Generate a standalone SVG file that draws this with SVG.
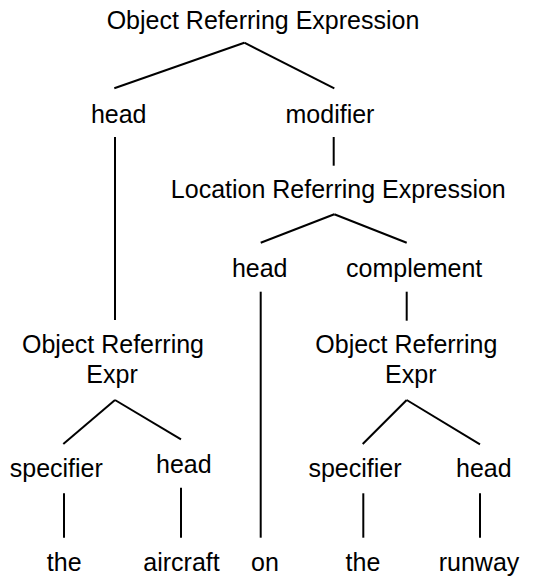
<svg xmlns="http://www.w3.org/2000/svg" width="554" height="577" viewBox="0 0 554 577">
<style>
text{font-family:"Liberation Sans",Arial,sans-serif;font-size:25px;fill:#000;text-anchor:middle}
.c line{stroke:#000;stroke-width:2;stroke-linecap:butt}
</style>
<rect width="554" height="577" fill="#fff"/>
<g class="c" id="connectors">
<line x1="244.3" y1="42.7" x2="114.3" y2="88.3"/>
<line x1="244.3" y1="42.7" x2="334.3" y2="88.3"/>
<line x1="115" y1="137" x2="115" y2="320"/>
<line x1="333.7" y1="137" x2="333.7" y2="165.7"/>
<line x1="334.3" y1="214.3" x2="260.7" y2="242.7"/>
<line x1="334.3" y1="214.3" x2="406.7" y2="242.7"/>
<line x1="260.7" y1="291.7" x2="260.7" y2="537.7"/>
<line x1="406.7" y1="291.7" x2="406.7" y2="320.7"/>
<line x1="115" y1="400" x2="63.3" y2="444"/>
<line x1="115" y1="400" x2="181" y2="439.3"/>
<line x1="406.7" y1="400" x2="362.7" y2="444"/>
<line x1="406.7" y1="400" x2="480" y2="444.3"/>
<line x1="64" y1="493.3" x2="64" y2="537.7"/>
<line x1="181" y1="487.7" x2="181" y2="537.7"/>
<line x1="363.3" y1="493.3" x2="363.3" y2="537.7"/>
<line x1="480" y1="493.3" x2="480" y2="537.7"/>
</g>
<g id="n-root"><text x="263" y="29">Object Referring Expression</text></g>
<g id="n-head1"><text x="118.7" y="122.7">head</text></g>
<g id="n-modifier"><text x="330" y="122.7">modifier</text></g>
<g id="n-loc"><text x="338.3" y="198">Location Referring Expression</text></g>
<g id="n-head2"><text x="259.7" y="277.3">head</text></g>
<g id="n-complement"><text x="414.2" y="277.3">complement</text></g>
<g id="n-ore-left"><text x="113" y="353.3">Object Referring</text><text x="112" y="383.3">Expr</text></g>
<g id="n-ore-right"><text x="406.3" y="353.3">Object Referring</text><text x="410.8" y="383.3">Expr</text></g>
<g id="n-spec-left"><text x="56.3" y="477.3">specifier</text></g>
<g id="n-head-left"><text x="183.8" y="472.7">head</text></g>
<g id="n-spec-right"><text x="355" y="477.3">specifier</text></g>
<g id="n-head-right"><text x="483.8" y="477.3">head</text></g>
<g id="n-the1"><text x="64.2" y="570.7">the</text></g>
<g id="n-aircraft"><text x="181.5" y="570.7">aircraft</text></g>
<g id="n-on"><text x="265" y="570.7">on</text></g>
<g id="n-the2"><text x="363" y="570.7">the</text></g>
<g id="n-runway"><text x="479" y="570.7">runway</text></g>
</svg>
